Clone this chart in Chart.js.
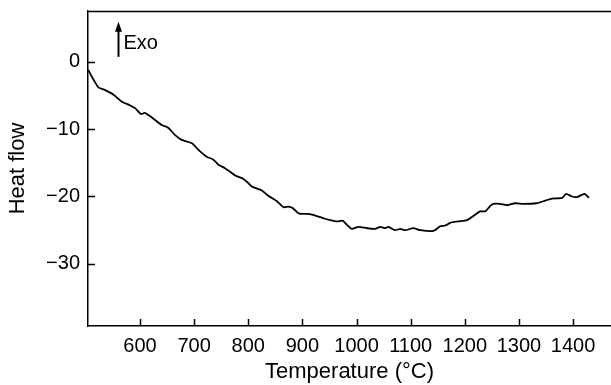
<!DOCTYPE html>
<html>
<head>
<meta charset="utf-8">
<script src="https://cdn.jsdelivr.net/npm/chart.js@4/dist/chart.umd.min.js"></script>
<style>
  html, body { margin: 0; padding: 0; background: #fff; }
  #wrap { width: 611px; height: 385px; position: relative; }
</style>
</head>
<body>
<div id="wrap"><canvas id="dsc"></canvas></div>
<script>
// DSC trace: temperature (°C) vs heat flow
var temps = [504, 523, 535, 551, 566, 582, 591, 602, 609, 622, 640, 652, 665, 677, 696, 708, 723, 735, 745, 757,
    766, 776, 791, 800, 806, 825, 837, 853, 865, 874, 882, 893, 914, 927, 942, 951, 964, 975, 982, 991,
    1003, 1019, 1034, 1044, 1053, 1059, 1071, 1081, 1090, 1105, 1118, 1142, 1155, 1164, 1173, 1188, 1204, 1219, 1228, 1238,
    1247, 1253, 1265, 1278, 1293, 1308, 1333, 1349, 1361, 1380, 1387, 1398, 1407, 1421, 1429];
var heatFlow = [-1.2, -3.8, -4.2, -4.9, -5.9, -6.5, -6.9, -7.8, -7.6, -8.3, -9.4, -9.8, -10.9, -11.6, -12.1, -13.1, -14.1, -14.5, -15.3, -15.8,
    -16.3, -16.9, -17.4, -18.0, -18.5, -19.1, -19.9, -20.7, -21.6, -21.5, -21.7, -22.5, -22.6, -22.9, -23.3, -23.5, -23.7, -23.6, -24.2, -24.8,
    -24.5, -24.7, -24.8, -24.5, -24.7, -24.5, -25.0, -24.8, -25.0, -24.7, -25.0, -25.1, -24.4, -24.3, -23.9, -23.7, -23.5, -22.7, -22.2, -22.2,
    -21.4, -21.1, -21.1, -21.3, -21.0, -21.1, -21.0, -20.6, -20.3, -20.2, -19.6, -20.0, -20.1, -19.6, -20.2];

var xTicks = [600, 700, 800, 900, 1000, 1100, 1200, 1300, 1400];
var yTicks = [0, -10, -20, -30];

var points = temps.map(function (t, i) { return { x: t, y: heatFlow[i] }; });

var FONT = "'Liberation Sans', Arial, Helvetica, sans-serif";

// inward tick marks, top frame line and the Exo arrow
var frameExtras = {
    id: 'frameExtras',
    afterDraw: function (chart) {
        var ctx = chart.ctx;
        var a = chart.chartArea;
        var xs = chart.scales.x, ys = chart.scales.y;
        ctx.save();
        ctx.strokeStyle = '#000';
        ctx.lineWidth = 1.5;
        ctx.beginPath();
        xTicks.forEach(function (v) {
            var px = Math.round(xs.getPixelForValue(v)) + 0.5;
            ctx.moveTo(px, a.bottom);
            ctx.lineTo(px, a.bottom - 7);
        });
        yTicks.forEach(function (v) {
            var py = Math.round(ys.getPixelForValue(v)) + 0.5;
            ctx.moveTo(a.left, py);
            ctx.lineTo(a.left + 7, py);
        });
        ctx.moveTo(a.left, a.top + 0.5);
        ctx.lineTo(a.right, a.top + 0.5);
        ctx.stroke();

        // Exo arrow
        var ax = Math.round(xs.getPixelForValue(559)) + 0.5;
        var yBase = ys.getPixelForValue(0.7);
        var yTip = ys.getPixelForValue(5.9);
        ctx.lineWidth = 2;
        ctx.beginPath();
        ctx.moveTo(ax, yBase);
        ctx.lineTo(ax, yTip + 8);
        ctx.stroke();
        ctx.fillStyle = '#000';
        ctx.beginPath();
        ctx.moveTo(ax, yTip);
        ctx.lineTo(ax - 3.5, yTip + 10);
        ctx.lineTo(ax + 3.5, yTip + 10);
        ctx.closePath();
        ctx.fill();

        ctx.font = '20px ' + FONT;
        ctx.textBaseline = 'alphabetic';
        ctx.textAlign = 'left';
        ctx.fillText('Exo', ax + 5, ys.getPixelForValue(1.8));
        ctx.restore();
    }
};

function noEdgePad(s) {
    s.paddingTop = 0;
    s.paddingBottom = 0;
    s.paddingLeft = 0;
    s.paddingRight = 0;
}

new Chart(document.getElementById('dsc'), {
    type: 'line',
    data: {
        datasets: [{
            data: points,
            borderColor: '#000',
            borderWidth: 1.8,
            pointRadius: 0,
            tension: 0.2,
            fill: false
        }]
    },
    options: {
        responsive: true,
        maintainAspectRatio: false,
        animation: false,
        layout: { padding: { top: 11, right: 0, left: 0, bottom: 0 } },
        plugins: { legend: { display: false }, tooltip: { enabled: false } },
        scales: {
            x: {
                type: 'linear',
                min: 504,
                max: 1470,
                afterBuildTicks: function (s) { s.ticks = xTicks.map(function (v) { return { value: v }; }); },
                afterFit: function (s) { s.height = 59; noEdgePad(s); },
                grid: { drawOnChartArea: false, drawTicks: false },
                border: { display: true, color: '#000', width: 1.5 },
                ticks: {
                    color: '#000',
                    padding: 8,
                    maxRotation: 0,
                    autoSkip: false,
                    font: { family: FONT, size: 20 },
                    callback: function (v) { return String(v); }
                },
                title: {
                    display: true,
                    text: 'Temperature (°C)',
                    color: '#000',
                    font: { family: FONT, size: 22 },
                    padding: { top: 0, bottom: 0 }
                }
            },
            y: {
                min: -39.2,
                max: 7.5,
                afterBuildTicks: function (s) { s.ticks = yTicks.map(function (v) { return { value: v }; }); },
                afterFit: function (s) { s.width = 88; noEdgePad(s); },
                grid: { drawOnChartArea: false, drawTicks: false },
                border: { display: true, color: '#000', width: 1.5 },
                ticks: {
                    color: '#000',
                    padding: 8,
                    font: { family: FONT, size: 20 },
                    callback: function (v) { return v < 0 ? '\u2212' + Math.abs(v) : String(v); }
                },
                title: {
                    display: true,
                    text: 'Heat flow',
                    color: '#000',
                    font: { family: FONT, size: 22 },
                    padding: { top: 5, bottom: 0 }
                }
            }
        }
    },
    plugins: [frameExtras]
});
</script>
</body>
</html>
